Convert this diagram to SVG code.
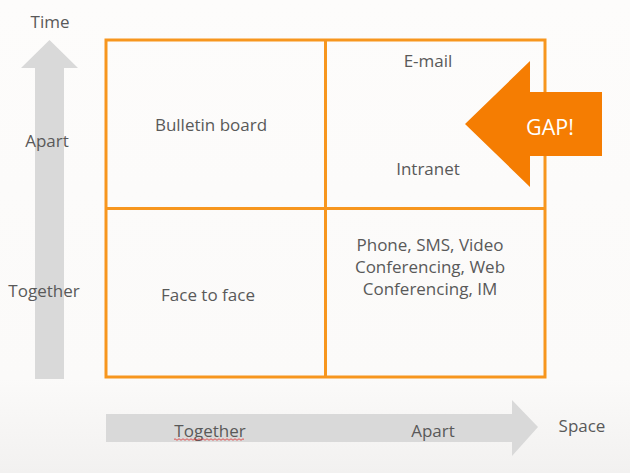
<svg xmlns="http://www.w3.org/2000/svg" width="630" height="473" viewBox="0 0 630 473">
<defs>
<linearGradient id="bg" x1="0" y1="0" x2="0" y2="1">
<stop offset="0" stop-color="#FDFCFB"/>
<stop offset="0.8" stop-color="#FBFAF9"/>
<stop offset="1" stop-color="#F2F1F0"/>
</linearGradient>
<style>
.t{font-family:"Open Sans","Noto Sans","Liberation Sans",sans-serif;font-size:17px;fill:#595959;text-anchor:middle}
.ax{fill:#D9D9D9}
.grid{fill:none;stroke:#F7961E;stroke-width:3}
</style>
</defs>
<rect width="630" height="473" fill="url(#bg)"/>
<g id="time-axis">
<polygon class="ax" points="35,379 35,68 21,68 49.5,40 78,68 64,68 64,379"/>
<text class="t" x="50" y="28">Time</text>
<text class="t" x="47" y="147">Apart</text>
<text class="t" x="44" y="297">Together</text>
</g>
<g id="space-axis">
<polygon class="ax" points="106,414 512,414 512,400 538,427 512,456 512,442 106,442"/>
<text class="t" x="210" y="437">Together</text>
<path d="M174,439.5 q1,-1.5 2,0 t2,0 t2,0 t2,0 t2,0 t2,0 t2,0 t2,0 t2,0 t2,0 t2,0 t2,0 t2,0 t2,0 t2,0 t2,0 t2,0 t2,0 t2,0 t2,0 t2,0 t2,0 t2,0 t2,0 t2,0 t2,0 t2,0 t2,0 t2,0 t2,0 t2,0 t2,0 t2,0 t2,0 t2,0" fill="none" stroke="#E03030" stroke-width="0.8"/>
<text class="t" x="433" y="437">Apart</text>
<text class="t" x="582" y="432">Space</text>
</g>
<g id="grid">
<rect class="grid" x="106" y="40" width="439" height="337"/>
<line class="grid" x1="325.5" y1="40" x2="325.5" y2="377"/>
<line class="grid" x1="106" y1="208.5" x2="545" y2="208.5"/>
</g>
<g id="cell-bulletin"><text class="t" x="211" y="131">Bulletin board</text></g>
<g id="cell-email"><text class="t" x="428" y="67">E-mail</text></g>
<g id="cell-intranet"><text class="t" x="428" y="175">Intranet</text></g>
<g id="cell-face"><text class="t" x="208" y="301">Face to face</text></g>
<g id="cell-phone">
<text class="t" x="430" y="251">Phone, SMS, Video</text>
<text class="t" x="430" y="273">Conferencing, Web</text>
<text class="t" x="430" y="295">Conferencing, IM</text>
</g>
<g id="gap">
<polygon points="602,92 530,92 530,61 465,124 530,187 530,156 602,156" fill="#F57D02"/>
<text x="550" y="135" style="font-family:'Open Sans','Noto Sans','Liberation Sans',sans-serif;font-size:21.5px;fill:#FFFFFF;text-anchor:middle">GAP!</text>
</g>
</svg>
